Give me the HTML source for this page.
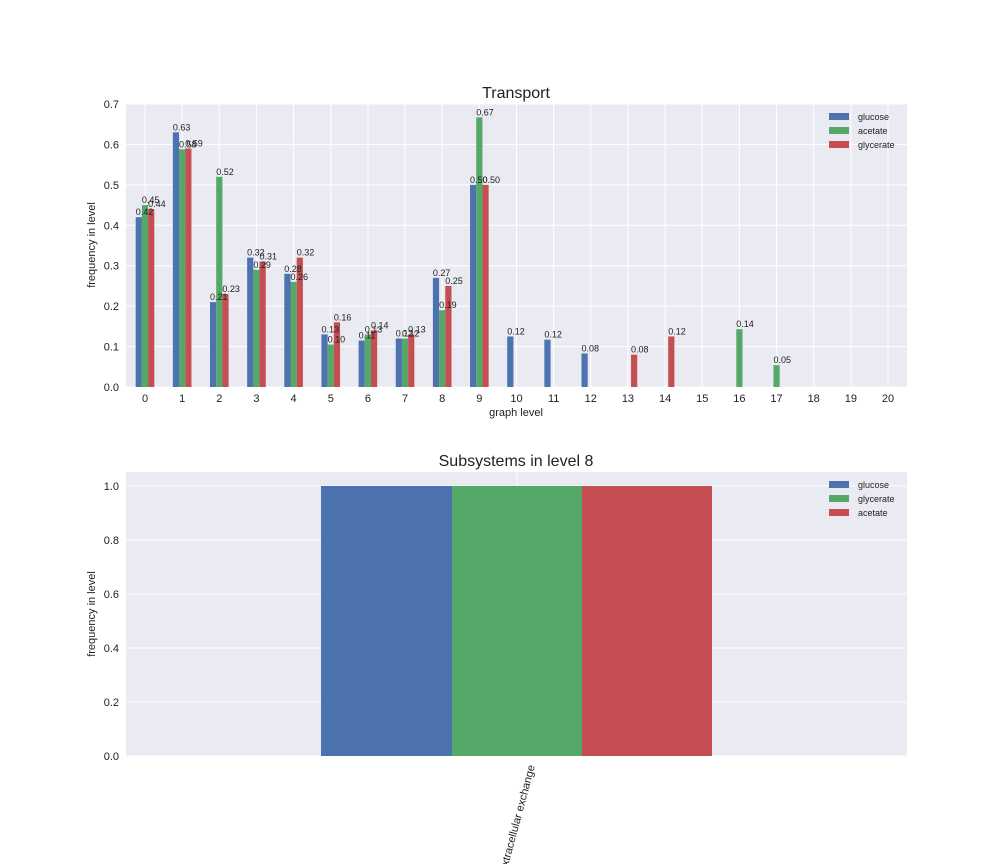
<!DOCTYPE html>
<html><head><meta charset="utf-8"><style>
html,body{margin:0;padding:0;background:#fff;}
svg{display:block;font-family:"Liberation Sans",sans-serif;}
</style></head><body>
<svg id="s" width="1008" height="864" xmlns="http://www.w3.org/2000/svg"></svg>
<script>
var s=document.getElementById('s');var h='';var txt='';
var B='#4c72b0',G='#55a868',R='#c44e52';
var L=126,Rr=907,T=104,Bt=387,sy=(Bt-T)/0.7;
h+='<rect x="'+L+'" y="'+T+'" width="'+(Rr-L)+'" height="'+(Bt-T)+'" fill="#eaeaf2"/>';
for(var i=0;i<=7;i++){var y=Bt-i*0.1*sy;h+='<line x1="'+L+'" x2="'+Rr+'" y1="'+y+'" y2="'+y+'" stroke="#fff" stroke-width="1"/>';
h+='<text x="'+(L-7)+'" y="'+(y+4)+'" font-size="11" text-anchor="end" fill="#222">'+(i/10).toFixed(1)+'</text>';}
var t0=145,dx=37.15;
for(var k=0;k<=20;k++){var x=t0+k*dx;h+='<line x1="'+x+'" x2="'+x+'" y1="'+T+'" y2="'+Bt+'" stroke="#fff"/>';
h+='<text x="'+x+'" y="'+(Bt+15)+'" font-size="11" text-anchor="middle" fill="#222">'+k+'</text>';}
var gl={0:[.42,'0.42'],1:[.63,'0.63'],2:[.21,'0.21'],3:[.32,'0.32'],4:[.28,'0.28'],5:[.13,'0.13'],6:[.115,'0.11'],7:[.12,'0.12'],8:[.27,'0.27'],9:[.50,'0.50'],10:[.125,'0.12'],11:[.117,'0.12'],12:[.083,'0.08']};
var ac={0:[.45,'0.45'],1:[.588,'0.58'],2:[.52,'0.52'],3:[.29,'0.29'],4:[.26,'0.26'],5:[.105,'0.10'],6:[.13,'0.13'],7:[.12,'0.12'],8:[.19,'0.19'],9:[.667,'0.67'],16:[.143,'0.14'],17:[.054,'0.05']};
var gy={0:[.44,'0.44'],1:[.59,'0.59'],2:[.23,'0.23'],3:[.31,'0.31'],4:[.32,'0.32'],5:[.16,'0.16'],6:[.14,'0.14'],7:[.13,'0.13'],8:[.25,'0.25'],9:[.50,'0.50'],13:[.08,'0.08'],14:[.125,'0.12']};
function bars(d,off,c){for(var k in d){var x=t0+k*dx+off,y=Bt-d[k][0]*sy;
h+='<rect x="'+x+'" y="'+y+'" width="6.2" height="'+(Bt-y)+'" fill="'+c+'"/>';
txt+='<text x="'+x+'" y="'+(y-2)+'" font-size="9" fill="#222">'+d[k][1]+'</text>';}}
bars(gl,-9.3,B);bars(ac,-3.1,G);bars(gy,3.1,R);
h+=txt;
h+='<text x="516" y="98" font-size="16" text-anchor="middle" fill="#222">Transport</text>';
h+='<text x="516" y="416" font-size="11" text-anchor="middle" fill="#222">graph level</text>';
h+='<text transform="translate(95,245) rotate(-90)" font-size="11" text-anchor="middle" fill="#222">frequency in level</text>';
function leg(y0,names){for(var i=0;i<3;i++){var y=y0+i*14;h+='<rect x="829" y="'+(y-4)+'" width="20" height="7" fill="'+[B,G,R][i]+'"/>';
h+='<text x="858" y="'+(y+3)+'" font-size="9" fill="#222">'+names[i]+'</text>';}}
leg(117,['glucose','acetate','glycerate']);
var T2=472,B2=756,s2=270;
h+='<rect x="'+L+'" y="'+T2+'" width="'+(Rr-L)+'" height="'+(B2-T2)+'" fill="#eaeaf2"/>';
for(var i=0;i<=5;i++){var y=B2-i*0.2*s2;h+='<line x1="'+L+'" x2="'+Rr+'" y1="'+y+'" y2="'+y+'" stroke="#fff"/>';
h+='<text x="'+(L-7)+'" y="'+(y+4)+'" font-size="11" text-anchor="end" fill="#222">'+(i*0.2).toFixed(1)+'</text>';}
h+='<line x1="517" x2="517" y1="'+T2+'" y2="'+B2+'" stroke="#fff"/>';
h+='<rect x="321" y="486" width="131" height="270" fill="'+B+'"/>';
h+='<rect x="452" y="486" width="130" height="270" fill="'+G+'"/>';
h+='<rect x="582" y="486" width="130" height="270" fill="'+R+'"/>';
h+='<text x="516" y="466" font-size="16" text-anchor="middle" fill="#222">Subsystems in level 8</text>';
h+='<text transform="translate(95,614) rotate(-90)" font-size="11" text-anchor="middle" fill="#222">frequency in level</text>';
h+='<text transform="translate(535,766) rotate(-75)" font-size="11" text-anchor="end" fill="#222">extracellular exchange</text>';
leg(485,['glucose','glycerate','acetate']);
s.innerHTML=h;
</script>
</body></html>
